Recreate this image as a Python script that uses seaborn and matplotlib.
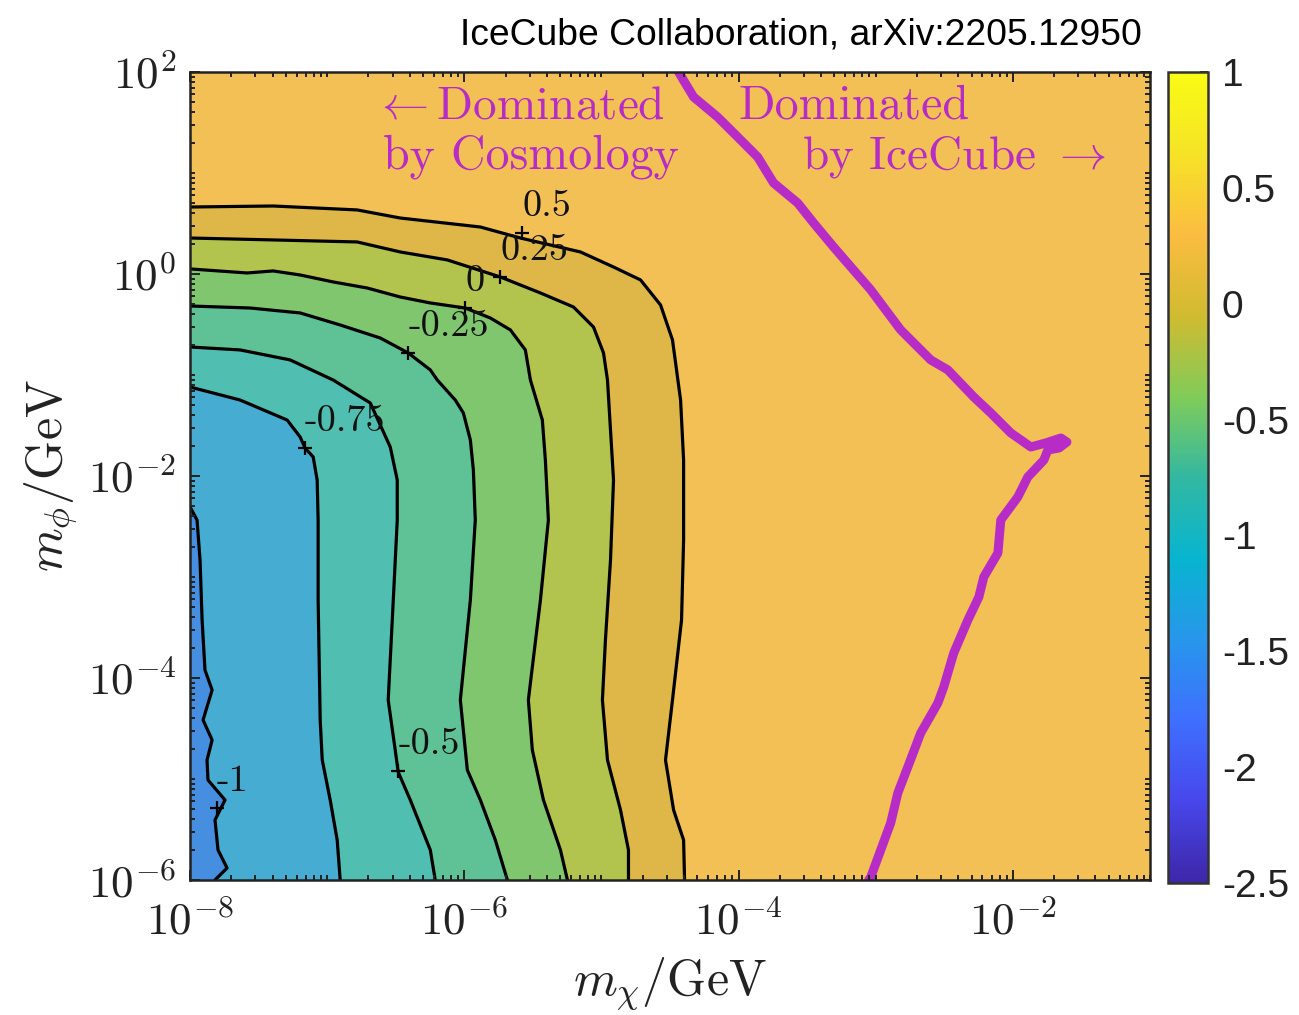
import numpy as np
import matplotlib
matplotlib.use("Agg")
import matplotlib.pyplot as plt
import seaborn as sns
from matplotlib.colors import LinearSegmentedColormap, Normalize
from matplotlib.cm import ScalarMappable
from matplotlib.ticker import FixedLocator, FixedFormatter, LogLocator, NullFormatter

# ---------------- data (log10 of masses) ----------------
LEVELS = [-1.0, -0.75, -0.5, -0.25, 0.0, 0.25, 0.5]

# contour lines: from the left edge (m_chi = 1e-8) down to the bottom edge (m_phi = 1e-6)
C_M100_X = [-8.0, -7.949, -7.927, -7.912, -7.891, -7.839, -7.905, -7.839, -7.876, -7.869, -7.745, -7.818, -7.796, -7.730, -7.818]
C_M100_Y = [-2.307, -2.436, -2.832, -3.426, -3.921, -4.119, -4.416, -4.614, -4.812, -5.010, -5.208, -5.406, -5.703, -5.881, -6.0]

C_M075_X = [-8.0, -7.635, -7.292, -7.197, -7.161, -7.102, -7.073, -7.066, -7.066, -7.051, -7.036, -6.978, -6.927, -6.905]
C_M075_Y = [-1.119, -1.248, -1.446, -1.614, -1.723, -1.812, -2.040, -2.436, -3.228, -4.416, -4.812, -5.208, -5.604, -6.0]

C_M050_X = [-8.0, -7.635, -7.270, -6.956, -6.686, -6.540, -6.489, -6.489, -6.518, -6.555, -6.504, -6.482, -6.394, -6.248, -6.212]
C_M050_Y = [-0.723, -0.752, -0.851, -1.050, -1.277, -1.713, -2.040, -2.436, -3.228, -4.218, -4.713, -4.931, -5.208, -5.703, -6.0]

C_M025_X = [-8.0, -7.562, -7.197, -6.905, -6.613, -6.409, -6.248, -6.197, -6.066, -6.007, -5.956, -5.934, -5.920, -5.956, -6.029, -5.978, -5.883, -5.774, -5.686]
C_M025_Y = [-0.317, -0.337, -0.386, -0.505, -0.634, -0.782, -0.950, -1.050, -1.248, -1.376, -1.644, -1.941, -2.436, -3.228, -4.218, -4.911, -5.208, -5.604, -6.0]

C_000_X = [-8.0, -7.584, -7.394, -7.197, -6.956, -6.708, -6.467, -6.248, -5.993, -5.810, -5.664, -5.555, -5.518, -5.431, -5.409, -5.387, -5.445, -5.533, -5.504, -5.423, -5.299, -5.248]
C_000_Y = [0.050, 0.010, 0.030, -0.010, -0.079, -0.139, -0.228, -0.287, -0.337, -0.436, -0.554, -0.752, -1.050, -1.446, -1.842, -2.436, -3.228, -4.218, -4.713, -5.208, -5.703, -6.0]

C_P025_X = [-8.0, -7.394, -6.781, -6.467, -6.124, -5.737, -5.445, -5.204, -5.058, -4.985, -4.956, -4.934, -4.912, -4.934, -4.971, -4.993, -4.956, -4.861, -4.803, -4.803]
C_P025_Y = [0.356, 0.337, 0.317, 0.218, 0.139, -0.030, -0.188, -0.327, -0.525, -0.782, -1.050, -1.545, -2.040, -2.832, -3.624, -4.218, -4.812, -5.307, -5.703, -6.0]

C_P050_X = [-8.0, -7.394, -6.781, -6.467, -5.883, -5.591, -5.153, -4.912, -4.715, -4.569, -4.482, -4.423, -4.401, -4.401, -4.416, -4.482, -4.533, -4.474, -4.401, -4.394]
C_P050_Y = [0.663, 0.673, 0.634, 0.554, 0.465, 0.356, 0.218, 0.069, -0.059, -0.307, -0.653, -1.248, -1.842, -2.634, -3.426, -4.218, -4.812, -5.307, -5.604, -6.0]

CONTOURS_X = [C_M100_X, C_M075_X, C_M050_X, C_M025_X, C_000_X, C_P025_X, C_P050_X]
CONTOURS_Y = [C_M100_Y, C_M075_Y, C_M050_Y, C_M025_Y, C_000_Y, C_P025_Y, C_P050_Y]

# contour label positions ("+" marks) and texts
LABEL_TEXT = ["0.5", "0.25", "0", "-0.25", "-0.75", "-0.5", "-1"]
LABEL_X = [-5.577, -5.737, -5.993, -6.409, -7.161, -6.482, -7.803]
LABEL_Y = [0.406, -0.030, -0.337, -0.782, -1.723, -4.921, -5.287]

# IceCube / cosmology boundary (magenta)
BOUND_X = [-4.438, -4.328, -4.153, -3.985, -3.861, -3.745, -3.569, -3.453, -3.307, -3.036, -2.818, -2.599,
           -2.474, -2.285, -2.161, -2.015, -1.869, -1.760, -1.650, -1.606, -1.664, -1.745, -1.774, -1.891,
           -1.964, -2.088, -2.109, -2.212, -2.248, -2.328, -2.431, -2.504, -2.547, -2.672, -2.766, -2.839,
           -2.891, -3.036, -3.051]
BOUND_Y = [2.0, 1.752, 1.554, 1.327, 1.158, 0.901, 0.703, 0.505, 0.267, -0.158, -0.554, -0.851,
           -0.950, -1.218, -1.376, -1.574, -1.713, -1.673, -1.624, -1.664, -1.723, -1.743, -1.842, -2.010,
           -2.208, -2.436, -2.762, -3.000, -3.198, -3.426, -3.752, -4.089, -4.248, -4.545, -4.881, -5.139,
           -5.436, -5.970, -6.0]

XTICK_EXP = [-8, -6, -4, -2]
XTICK_LABELS = [r"$10^{-8}$", r"$10^{-6}$", r"$10^{-4}$", r"$10^{-2}$"]
YTICK_EXP = [-6, -4, -2, 0, 2]
YTICK_LABELS = [r"$10^{-6}$", r"$10^{-4}$", r"$10^{-2}$", r"$10^{0}$", r"$10^{2}$"]
CB_TICKS = [1, 0.5, 0, -0.5, -1, -1.5, -2, -2.5]
CB_LABELS = ["1", "0.5", "0", "-0.5", "-1", "-1.5", "-2", "-2.5"]
CB_RANGE = (-2.5, 1.0)
X_RANGE = (-8, -1)
Y_RANGE = (-6, 2)

# ---------------- styles ----------------
BAND_COLORS = ["#468EE0", "#46ACD2", "#50BEB0", "#5EC296", "#80C66E", "#B2C44E", "#DEB748", "#F2C055"]
PARULA = [(0.2422, 0.1504, 0.6603), (0.2803, 0.2782, 0.9221), (0.2440, 0.4358, 0.9988),
          (0.1540, 0.5902, 0.9218), (0.0297, 0.7082, 0.8163), (0.1986, 0.7214, 0.6310),
          (0.5044, 0.7993, 0.3480), (0.8185, 0.7327, 0.1882), (0.9856, 0.7372, 0.2537),
          (0.9637, 0.8899, 0.1529), (0.9769, 0.9839, 0.0805)]
MAGENTA = "#B72CC6"

sns.set_theme(style="ticks")
plt.rcParams["font.family"] = ["DejaVu Sans"]
plt.rcParams["mathtext.fontset"] = "cm"
plt.rcParams["axes.unicode_minus"] = False

fig = plt.figure(figsize=(12.99, 10.15), dpi=100)
ax = fig.add_axes([0.1463, 0.1330, 0.7390, 0.7961])
ax.set_xscale("log")
ax.set_yscale("log")
ax.set_xlim(10.0 ** X_RANGE[0], 10.0 ** X_RANGE[1])
ax.set_ylim(10.0 ** Y_RANGE[0], 10.0 ** Y_RANGE[1])
ax.set_facecolor(BAND_COLORS[0])
ax.set_axisbelow(False)

# filled bands (region above each contour level)
for cx, cy, col in zip(CONTOURS_X, CONTOURS_Y, BAND_COLORS[1:]):
    px = np.concatenate([cx, [X_RANGE[1], X_RANGE[1], X_RANGE[0]]])
    py = np.concatenate([cy, [Y_RANGE[0], Y_RANGE[1], Y_RANGE[1]]])
    ax.fill(10.0 ** px, 10.0 ** py, color=col, lw=0, zorder=1)

# contour lines
for cx, cy in zip(CONTOURS_X, CONTOURS_Y):
    sns.lineplot(x=10.0 ** np.array(cx), y=10.0 ** np.array(cy), ax=ax, sort=False,
                 estimator=None, color="black", linewidth=2.3, zorder=3)

# contour labels with + marks
ax.plot(10.0 ** np.array(LABEL_X), 10.0 ** np.array(LABEL_Y), "+", color="black",
        ms=10, mew=1.6, zorder=5)
for t, lx, ly in zip(LABEL_TEXT, LABEL_X, LABEL_Y):
    ax.annotate(t, (10.0 ** lx, 10.0 ** ly), xytext=(0, 10), textcoords="offset pixels",
                ha="left", va="bottom", fontsize=27.5, family="cmr10", color="#111111", zorder=6)

# magenta boundary
sns.lineplot(x=10.0 ** np.array(BOUND_X), y=10.0 ** np.array(BOUND_Y), ax=ax, sort=False,
             estimator=None, color=MAGENTA, linewidth=6.5, zorder=4,
             solid_joinstyle="round", solid_capstyle="round")

# region annotations
ax.text(0.1906, 0.943, r"$\leftarrow$Dominated", transform=ax.transAxes, fontsize=34,
        family="cmr10", color=MAGENTA, ha="left", va="baseline", zorder=7)
ax.text(0.2010, 0.881, "by Cosmology", transform=ax.transAxes, fontsize=34.5,
        family="cmr10", color=MAGENTA, ha="left", va="baseline", zorder=7)
ax.text(0.5708, 0.943, "Dominated", transform=ax.transAxes, fontsize=34.5,
        family="cmr10", color=MAGENTA, ha="left", va="baseline", zorder=7)
ax.text(0.6380, 0.881, r"by IceCube $\rightarrow$", transform=ax.transAxes, fontsize=34,
        family="cmr10", color=MAGENTA, ha="left", va="baseline", zorder=7)

# axes styling
ax.xaxis.set_major_locator(FixedLocator(10.0 ** np.array(XTICK_EXP, dtype=float)))
ax.xaxis.set_major_formatter(FixedFormatter(XTICK_LABELS))
ax.yaxis.set_major_locator(FixedLocator(10.0 ** np.array(YTICK_EXP, dtype=float)))
ax.yaxis.set_major_formatter(FixedFormatter(YTICK_LABELS))
for axis in (ax.xaxis, ax.yaxis):
    axis.set_minor_locator(LogLocator(base=10, subs=np.arange(1, 10), numticks=100))
    axis.set_minor_formatter(NullFormatter())
    axis.set_zorder(8)
ax.tick_params(which="both", direction="in", top=True, right=True, color="#222222", width=1.4)
ax.tick_params(which="major", length=7.5, labelsize=32.5, labelcolor="#222222")
ax.tick_params(which="minor", length=3.8)
ax.tick_params(axis="x", which="major", pad=15)
ax.tick_params(axis="y", which="major", pad=10)
for s in ax.spines.values():
    s.set_linewidth(1.8)
    s.set_color("#222222")
    s.set_zorder(9)

ax.set_xlabel(r"$m_\chi/\mathrm{GeV}$", fontsize=36, labelpad=8, color="#222222")
ax.set_ylabel(r"$m_\phi/\mathrm{GeV}$", fontsize=36, labelpad=6, color="#222222")

# colorbar
cmap = LinearSegmentedColormap.from_list("parula", PARULA)
cax = fig.add_axes([0.8992, 0.1300, 0.0308, 0.7990])
sm = ScalarMappable(norm=Normalize(*CB_RANGE), cmap=cmap)
cbar = fig.colorbar(sm, cax=cax)
cbar.set_ticks(CB_TICKS, labels=CB_LABELS)
cbar.ax.tick_params(direction="in", length=6, width=1.4, color="#222222", right=True,
                    left=False, pad=10)
for lab in cbar.ax.get_yticklabels():
    lab.set_fontfamily("Liberation Sans")
    lab.set_fontsize(28)
    lab.set_color("#222222")
cbar.outline.set_linewidth(1.8)
cbar.outline.set_edgecolor("#333333")
cbar.ax.minorticks_off()

fig.text(0.3541, 0.9557, "IceCube Collaboration, arXiv:2205.12950", fontsize=26.8,
         family="Liberation Sans", ha="left", va="baseline", color="black")

fig.savefig("out.png", dpi=100)
